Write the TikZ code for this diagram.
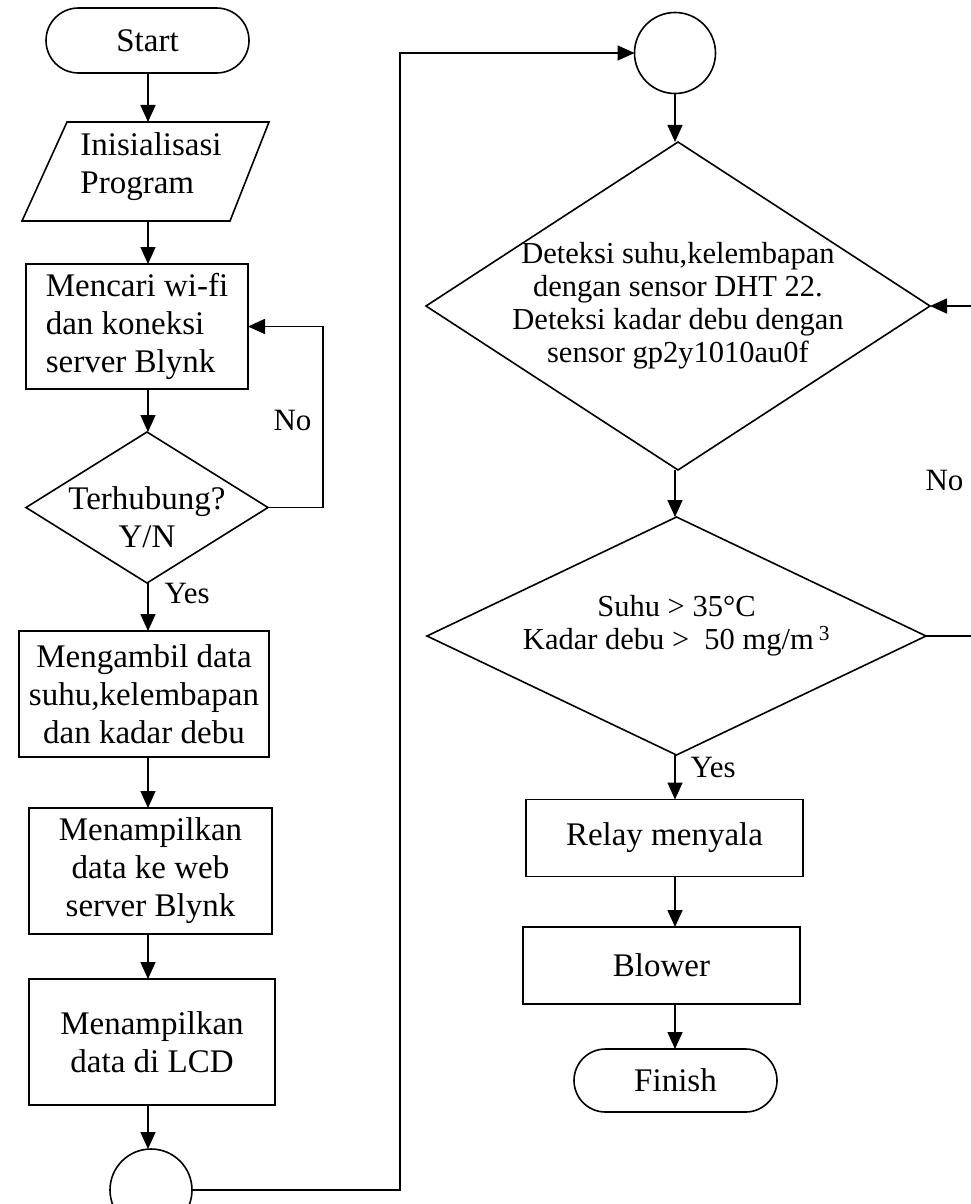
\documentclass[tikz,border=0pt]{standalone}
\usepackage{fontspec}
\setmainfont{Liberation Serif}
\usetikzlibrary{shapes.geometric, shapes.misc, arrows.meta}

\tikzset{
  every node/.style={font=\fontsize{33}{38}\selectfont},
  flowline/.style={line width=1.6pt, -{Triangle[length=17pt,width=15pt]}},
  terminal/.style={draw, rounded rectangle, line width=1.6pt, inner sep=0pt, outer sep=0pt},
  process/.style={draw, rectangle, line width=1.6pt, inner sep=0pt, outer sep=0pt, align=center},
  decision/.style={draw, diamond, line width=1.6pt, inner sep=0pt, outer sep=0pt},
  connector/.style={draw, circle, line width=1.6pt, inner sep=0pt, outer sep=0pt, minimum size=81pt},
  smalltext/.style={font=\fontsize{30.5}{33}\selectfont},
  tag/.style={font=\fontsize{31}{36}\selectfont},
}

\begin{document}
\begin{tikzpicture}[x=1pt, y=-1pt]
    \useasboundingbox (0,0) rectangle (970,1204);
    \coordinate (colL) at (148,0);
    \coordinate (colR) at (675,0);
    \coordinate (loopA) at (323,0);
    \coordinate (jump) at (400,0);
    \coordinate (loopB) at (976,0);

    % left column
    \node[terminal, minimum width=203pt, minimum height=65pt] (start) at (147.5,40.5) {Start};
    \draw[line width=1.6pt] (67,122) -- (269,122) -- (230,221) -- (22,221) -- cycle;
    \node[inner sep=0pt, outer sep=0pt, minimum width=200pt, minimum height=99pt] (init) at (147,171.5) {};
    \node[align=left] (initText) at (151,167) {Inisialisasi\\Program};
    \node[process, align=left, minimum width=222pt, minimum height=125pt] (wifi) at (137,326.5) {Mencari wi-fi\\dan koneksi\\server Blynk};
    \node[decision, minimum width=242pt, minimum height=151pt] (conn) at (147,507.5) {};
    \node[align=center, yshift=-10pt] (connText) at (conn) {Terhubung?\\Y/N};
    \node[process, minimum width=250pt, minimum height=126pt] (ambil) at (144,694) {Mengambil data\\suhu,kelembapan\\dan kadar debu};
    \node[process, minimum width=243pt, minimum height=126pt] (web) at (150.5,871) {Menampilkan\\data ke web\\server Blynk};
    \node[process, minimum width=246pt, minimum height=126pt] (lcd) at (152,1042) {Menampilkan\\data di LCD};
    \node[connector, minimum size=82pt] (conA) at (151,1190) {};

    % right column
    \node[connector] (conB) at (675,53) {};
    \node[decision, minimum width=504pt, minimum height=328pt] (detect) at (678,306) {};
    \node[smalltext, align=center] (detectText) at (detect) {Deteksi suhu,kelembapan\\dengan sensor DHT 22.\\Deteksi kadar debu dengan\\sensor gp2y1010au0f};
    \node[decision, minimum width=499pt, minimum height=238pt] (check) at (676.5,636) {};
    \node[smalltext, align=center, yshift=10pt] (checkText) at (check) {Suhu > 35°C\\Kadar debu >\ \ 50 mg/m\,\textsuperscript{3}};
    \node[process, minimum width=277pt, minimum height=77pt] (relay) at (664.5,838) {Relay menyala};
    \node[process, minimum width=277pt, minimum height=77pt] (blower) at (661.5,965.5) {Blower};
    \node[terminal, minimum width=203pt, minimum height=63pt] (finish) at (675.5,1080.5) {Finish};

    % labels
    \node[tag, right] (noA) at (270,420) {No};
    \node[tag, right] (yesA) at (161,593) {Yes};
    \node[tag, right] (noB) at (922,480) {No};
    \node[tag, right] (yesB) at (687,767) {Yes};

    % connectors
    \draw[flowline] (start.south -| colL) -- (colL |- init.north);
    \draw[flowline] (init.south -| colL) -- (colL |- wifi.north);
    \draw[flowline] (wifi.south -| colL) -- (colL |- conn.north);
    \draw[flowline] (conn.south -| colL) -- (colL |- ambil.north);
    \draw[flowline] (ambil.south -| colL) -- (colL |- web.north);
    \draw[flowline] (web.south -| colL) -- (colL |- lcd.north);
    \draw[flowline] (lcd.south -| colL) -- (colL |- conA.north);
    \draw[flowline] (conn.east) -- (conn.east -| loopA) -- (loopA |- wifi.east) -- (wifi.east);
    \draw[flowline] (conA.east) -- (conA.east -| jump) -- (jump |- conB.west) -- (conB.west);

    \draw[flowline] (conB.south -| colR) -- (colR |- detect.north);
    \draw[flowline] (detect.south -| colR) -- (colR |- check.north);
    \draw[flowline] (check.south -| colR) -- (colR |- relay.north);
    \draw[flowline] (relay.south -| colR) -- (colR |- blower.north);
    \draw[flowline] (blower.south -| colR) -- (colR |- finish.north);
    \draw[flowline] (check.east) -- (check.east -| loopB) -- (loopB |- detect.east) -- (detect.east);
\end{tikzpicture}
\end{document}
